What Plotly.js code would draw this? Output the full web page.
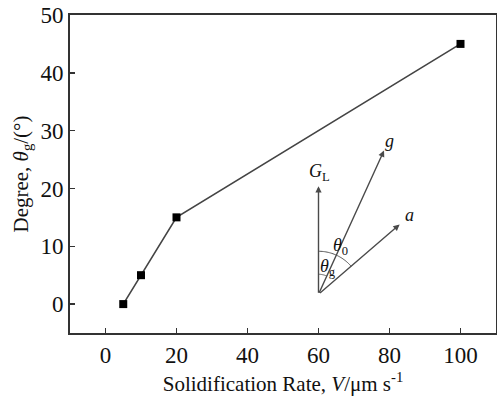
<!DOCTYPE html>
<html>
<head>
<meta charset="utf-8">
<script src="https://cdn.plot.ly/plotly-3.0.1.min.js"></script>
<style>html,body{margin:0;padding:0;background:#fff;font-family:'Liberation Serif',serif;}#chart{width:497px;height:397px;}#pre{position:absolute;left:-9999px;top:0;font-family:'Liberation Serif';font-size:20px;}</style>
</head>
<body>
<div id="pre">0123456789 Sa <i>θ</i></div>
<div id="chart"></div>
<script>
// Data
const rates = [5, 10, 20, 100];          // Solidification rate V (um/s)
const degrees = [0, 5, 15, 45];          // theta_g (deg)
const xTicks = [0, 20, 40, 60, 80, 100];
const yTicks = [0, 10, 20, 30, 40, 50];

const FONT = 'Liberation Serif';
const margin = {l: 70, r: 1, t: 15, b: 64};
const W = 497, H = 397;
const xRange = [-10, 110], yRange = [-5, 50];
const kx = (xRange[1] - xRange[0]) / (W - margin.l - margin.r);
const ky = (yRange[1] - yRange[0]) / (H - margin.t - margin.b);

// Inset vector diagram (origin in data units, offsets in screen px)
const O = {x: 60, y: 1.7};
function pt(dx, dyUp) { return {x: O.x + dx * kx, y: O.y + dyUp * ky}; }
function polar(r, d) { const a = d * Math.PI / 180; return pt(r * Math.sin(a), r * Math.cos(a)); }
const vecs = [{len: 108, ang: 0}, {len: 158, ang: 24.5}, {len: 107, ang: 49.3}];
const annotations = vecs.map(v => {
  const tip = polar(v.len, v.ang);
  return {x: tip.x, y: tip.y, ax: O.x, ay: O.y, xref: 'x', yref: 'y', axref: 'x', ayref: 'y',
          text: '', showarrow: true, arrowhead: 2, arrowsize: 0.9, arrowwidth: 1.4, arrowcolor: '#4a4a4a'};
});
const lab = (p, txt) => ({x: p.x, y: p.y, xref: 'x', yref: 'y', text: txt, showarrow: false,
  font: {family: FONT, size: 18, color: '#111'}});
annotations.push(lab(pt(1, 122), '<i>G</i><sub>L</sub>'));
annotations.push(lab(pt(71, 153), '<i>g</i>'));
annotations.push(lab(pt(91, 79), '<i>a</i>'));
annotations.push(lab(pt(22, 48), '<i>θ</i><sub>0</sub>'));
annotations.push(lab(pt(9, 27), '<i>θ</i><sub>g</sub>'));

function arcPath(r, a0, a1) {
  let s = '';
  for (let i = 0; i <= 30; i++) {
    const p = polar(r, a0 + (a1 - a0) * i / 30);
    s += (i === 0 ? 'M' : 'L') + p.x + ',' + p.y + ' ';
  }
  return s;
}
const shapes = [
  {type: 'path', xref: 'x', yref: 'y', path: arcPath(43, 0, 49.3), line: {color: '#555', width: 1}},
  {type: 'path', xref: 'x', yref: 'y', path: arcPath(20, 0, 24.5), line: {color: '#555', width: 1}}
];

const axisFont = {family: FONT, size: 23, color: '#111'};
const layout = {
  width: W, height: H, margin: margin, font: {family: FONT, color: '#111'},
  paper_bgcolor: '#fff', plot_bgcolor: '#fff', showlegend: false,
  xaxis: {range: xRange, tickvals: xTicks, ticktext: xTicks.map(String), ticks: 'inside', ticklen: 5, tickwidth: 1.5, tickcolor: '#333',
    showline: true, linecolor: '#333', linewidth: 2, mirror: true, showgrid: false, zeroline: false, tickfont: axisFont,
    title: {text: 'Solidification Rate, <i>V</i>/μm s<sup>-1</sup>', font: {family: FONT, size: 21, color: '#111'}, standoff: 10}},
  yaxis: {range: yRange, tickvals: yTicks, ticktext: yTicks.map(String), ticks: 'inside', ticklen: 5, tickwidth: 1.5, tickcolor: '#333',
    showline: true, linecolor: '#333', linewidth: 2, mirror: true, showgrid: false, zeroline: false, tickfont: axisFont,
    title: {text: 'Degree, <i>θ</i><sub>g</sub>/(°)', font: {family: FONT, size: 21, color: '#111'}, standoff: 6}},
  annotations: annotations, shapes: shapes
};
const traces = [{x: rates, y: degrees, type: 'scatter', mode: 'lines+markers',
  line: {color: '#444', width: 1.6}, marker: {symbol: 'square', size: 8, color: '#000'}}];

Plotly.newPlot('chart', traces, layout, {displayModeBar: false, staticPlot: true}).then(() => {
  document.body.setAttribute('data-drawn', '1');
  const pre = document.getElementById('pre');
  if (pre) pre.textContent = '';
});
</script>
</body>
</html>
